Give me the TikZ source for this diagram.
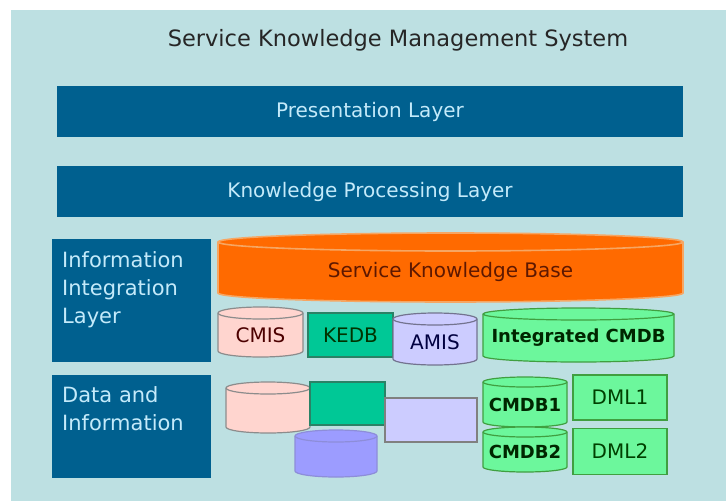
\documentclass[tikz,border=0pt]{standalone}
\usepackage{fontspec}
\setmainfont{DejaVu Sans}
\usetikzlibrary{positioning}

\definecolor{skmsbg}{HTML}{BDE0E2}
\definecolor{layerblue}{HTML}{00608F}
\definecolor{layertext}{HTML}{C4EAFA}
\definecolor{skborange}{HTML}{FF6A00}
\definecolor{skbrim}{HTML}{F6A663}
\definecolor{skbtext}{HTML}{5E1800}
\definecolor{cmispink}{HTML}{FFD5CF}
\definecolor{kedbteal}{HTML}{00C896}
\definecolor{kedbedge}{HTML}{2A8266}
\definecolor{amislav}{HTML}{CCCCFF}
\definecolor{dbblue}{HTML}{9C9CFF}
\definecolor{cmdbgreen}{HTML}{6CF79C}

\tikzset{
  layerbar/.style={fill=layerblue, text=layertext, minimum width=626pt, minimum height=51pt,
    inner sep=0pt, font=\fontsize{20}{24}\selectfont},
  sidebox/.style={fill=layerblue, minimum width=159pt, inner sep=0pt},
  sidetext/.style={text=layertext, align=left, anchor=north west, inner sep=0pt,
    font=\fontsize{21}{28}\selectfont},
  dblabel/.style={inner sep=0pt, font=\fontsize{20}{24}\selectfont},
  boldlabel/.style={inner sep=0pt, font=\fontsize{18}{22}\selectfont\bfseries},
  cmisdb/.style={fill=cmispink, draw=black!45, line width=1.2pt},
  kedbbox/.style={fill=kedbteal, draw=kedbedge, line width=1.2pt, inner sep=0pt},
  amisdb/.style={fill=amislav, draw=blue!20!black!55, line width=1.2pt},
  bluedb/.style={fill=dbblue, draw=blue!35!white!85!black, line width=1.2pt},
  cmdbdb/.style={fill=cmdbgreen, draw=green!50!black!75, line width=1.2pt},
  dmlbox/.style={fill=cmdbgreen, draw=green!50!black!75, line width=1.2pt, inner sep=0pt,
    text=green!25!black, font=\fontsize{20}{24}\selectfont}
}

% #1 style, #2 name, #3 left, #4 top, #5 right, #6 bottom, #7 rim depth, #8 label style, #9 text
\newcommand{\dbcyl}[9]{%
  \draw[#1] (#3,#4+#7) -- (#3,#6-#7)
    arc[start angle=180, end angle=0, x radius={(#5-#3)/2}, y radius=#7]
    -- (#5,#4+#7)
    arc[start angle=0, end angle=-180, x radius={(#5-#3)/2}, y radius=#7] -- cycle;
  \draw[#1, fill=none] (#3,#4+#7)
    arc[start angle=180, end angle=0, x radius={(#5-#3)/2}, y radius=#7];
  \node[#8] (#2) at ({(#3+#5)/2},{(#4+#6+#7)/2}) {#9};
}

\begin{document}
\begin{tikzpicture}[x=1pt, y=-1pt]
  \useasboundingbox (0,0) rectangle (726,501);
  \fill[skmsbg] (11,10) rectangle (726,501);

  \node[text=black!85, inner sep=0pt, font=\fontsize{22.5}{26}\selectfont] (title) at (398,40)
    {Service Knowledge Management System};

  % upper layers
  \node[layerbar] (pres) at (370,111.5) {Presentation Layer};
  \node[layerbar, below=29pt of pres] (kproc) {Knowledge Processing Layer};

  % side layers
  \node[sidebox, minimum height=123pt] (infolayer) at (131.5,300.5) {};
  \node[sidetext] (infotext) at (62,251) {Information\\Integration\\Layer};
  \node[sidebox, minimum height=103pt] (datalayer) at (131.5,426.5) {};
  \node[sidetext] (datatext) at (62,386) {Data and\\Information};

  % knowledge base
  \dbcyl{fill=skborange, draw=skbrim, line width=1.6pt}{skb}{218}{233}{683}{302}{9}%
    {dblabel, text=skbtext}{Service Knowledge Base}

  % integration row
  \dbcyl{cmisdb}{cmis}{218}{307}{303}{357}{6}{dblabel, text=red!30!black}{CMIS}
  \node[kedbbox, minimum width=85pt, minimum height=44pt, text=green!20!black,
    font=\fontsize{20}{24}\selectfont] (kedb) at (350.5,335) {KEDB};
  \dbcyl{amisdb}{amis}{393}{313}{477}{365}{6}{dblabel, text=blue!25!black}{AMIS}
  \dbcyl{cmdbdb}{icmdb}{483}{308}{674}{362}{6}{boldlabel, text=green!15!black}{Integrated CMDB}

  % data row
  \dbcyl{cmisdb}{cmisdata}{226}{382}{310}{433}{6}{dblabel}{}
  \node[kedbbox, minimum width=75pt, minimum height=43pt] (kedbdata) at (347.5,403.5) {};
  \dbcyl{bluedb}{bluedata}{295}{430}{377}{477}{6}{dblabel}{}
  \node[fill=amislav, draw=black!50, line width=1.2pt, minimum width=92pt, minimum height=44pt]
    (amisdata) at (431,420) {};
  \dbcyl{cmdbdb}{cmdbone}{483}{377}{567}{427}{5}{boldlabel, text=green!15!black}{CMDB1}
  \dbcyl{cmdbdb}{cmdbtwo}{483}{427}{567}{472}{5}{boldlabel, text=green!15!black}{CMDB2}
  \node[dmlbox, minimum width=94pt, minimum height=45pt] (dmlone) at (620,397.5) {DML1};
  \node[dmlbox, minimum width=94pt, minimum height=46pt, below=7pt of dmlone] (dmltwo) {DML2};
\end{tikzpicture}
\end{document}
